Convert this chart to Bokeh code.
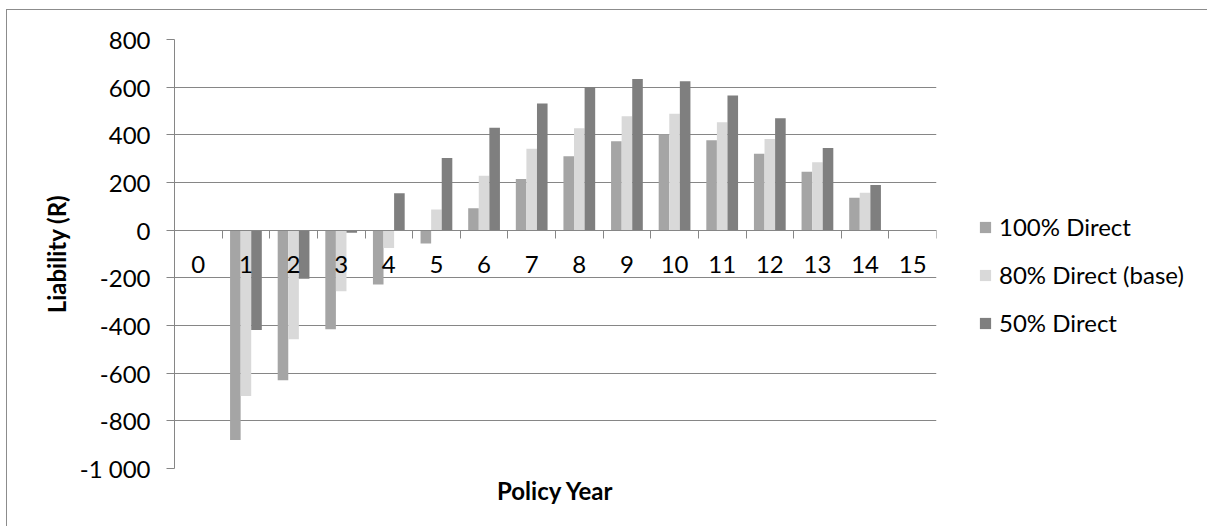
from bokeh.plotting import figure
from bokeh.models import (LinearAxis, FixedTicker, Legend, LegendItem,
                          ColumnDataSource, Range1d, Title)
from bokeh.transform import dodge
from bokeh.embed import file_html
from bokeh.resources import INLINE

# ---- data ----
years = [str(i) for i in range(16)]
direct_100 = [0, -880, -630, -416, -228, -56, 92, 215, 310, 373, 402, 377, 321, 245, 136, 0]
direct_80 = [0, -696, -458, -256, -75, 87, 228, 342, 428, 478, 488, 453, 382, 285, 157, 0]
direct_50 = [0, -419, -204, -11, 155, 303, 430, 531, 601, 634, 625, 565, 470, 345, 189, 0]
series_names = ["100% Direct", "80% Direct (base)", "50% Direct"]
y_ticks = [-1000, -800, -600, -400, -200, 0, 200, 400, 600, 800]
y_tick_labels = ["-1 000", "-800", "-600", "-400", "-200", "0", "200", "400", "600", "800"]

colors = ["#A5A5A5", "#D9D9D9", "#7F7F7F"]
FONT = "Lato"
GRID = "#868686"

n = len(years)
src = ColumnDataSource(dict(
    x=[i + 0.5 for i in range(n)],
    d100=direct_100, d80=direct_80, d50=direct_50,
))

p = figure(frame_width=762, frame_height=429, output_backend="svg", toolbar_location=None,
           x_range=Range1d(0, n), y_range=Range1d(-1000, 800),
           x_axis_location=None,
           min_border_left=167, min_border_top=29, min_border_right=268,
           min_border_bottom=58)
p.outline_line_color = None
p.background_fill_color = "white"
p.border_fill_color = "white"
p.styles = {"border-top": "1px solid #8c8c8c", "border-left": "1px solid #8c8c8c",
            "margin-left": "6px", "margin-top": "9px"}

bw = 1 / 4.5
rs = []
for key, off, col in zip(["d100", "d80", "d50"], [-bw, 0, bw], colors):
    r = p.vbar(x=dodge("x", off, range=p.x_range), top=key, bottom=0, width=bw,
               source=src, fill_color=col, line_color=None)
    rs.append(r)

# grid
p.xgrid.visible = False
p.ygrid.ticker = FixedTicker(ticks=y_ticks)
p.ygrid.grid_line_color = GRID
p.ygrid.grid_line_width = 1

# y axis
ya = p.yaxis[0]
ya.ticker = FixedTicker(ticks=y_ticks)
ya.major_label_overrides = {t: lab for t, lab in zip(y_ticks, y_tick_labels)}
ya.axis_line_color = GRID
ya.major_tick_line_color = GRID
ya.major_tick_out = 8
ya.major_tick_in = 0
ya.minor_tick_out = 0
ya.minor_tick_in = 0
ya.major_label_standoff = 16
ya.major_label_text_font = FONT
ya.major_label_text_font_size = "24px"
ya.major_label_text_color = "black"
ya.axis_label = "Liability (R)"
ya.axis_label_text_font = FONT
ya.axis_label_text_font_size = "24px"
ya.axis_label_text_font_style = "bold"
ya.axis_label_text_color = "black"
ya.axis_label_standoff = 6

# category axis drawn at y = 0: labels at centres, ticks at boundaries
label_pos = [i + 0.5 for i in range(n)]
ax_labels = LinearAxis(fixed_location=0,
                       ticker=FixedTicker(ticks=label_pos, minor_ticks=list(range(n + 1))),
                       major_label_overrides={pos: lab for pos, lab in zip(label_pos, years)},
                       major_tick_out=0, major_tick_in=0, minor_tick_out=8, minor_tick_in=0,
                       axis_line_color=GRID, major_tick_line_color=None,
                       minor_tick_line_color=GRID,
                       major_label_text_font=FONT, major_label_text_font_size="24px",
                       major_label_text_color="black", major_label_standoff=18)
p.add_layout(ax_labels, "below")

p.add_layout(Title(text="Policy Year", align="center", text_font=FONT,
                   text_font_size="24px", text_font_style="bold", text_color="black",
                   standoff=10), "below")

legend = Legend(items=[LegendItem(label=nm, renderers=[r]) for nm, r in zip(series_names, rs)],
                location=(42, 131), orientation="vertical",
                glyph_width=14, glyph_height=14, label_standoff=7,
                label_text_font=FONT, label_text_font_size="24px", label_text_color="black",
                spacing=19, padding=0, margin=0, border_line_color=None,
                background_fill_alpha=0)
p.add_layout(legend, "right")

open("out.html", "w").write(file_html(p, INLINE))
